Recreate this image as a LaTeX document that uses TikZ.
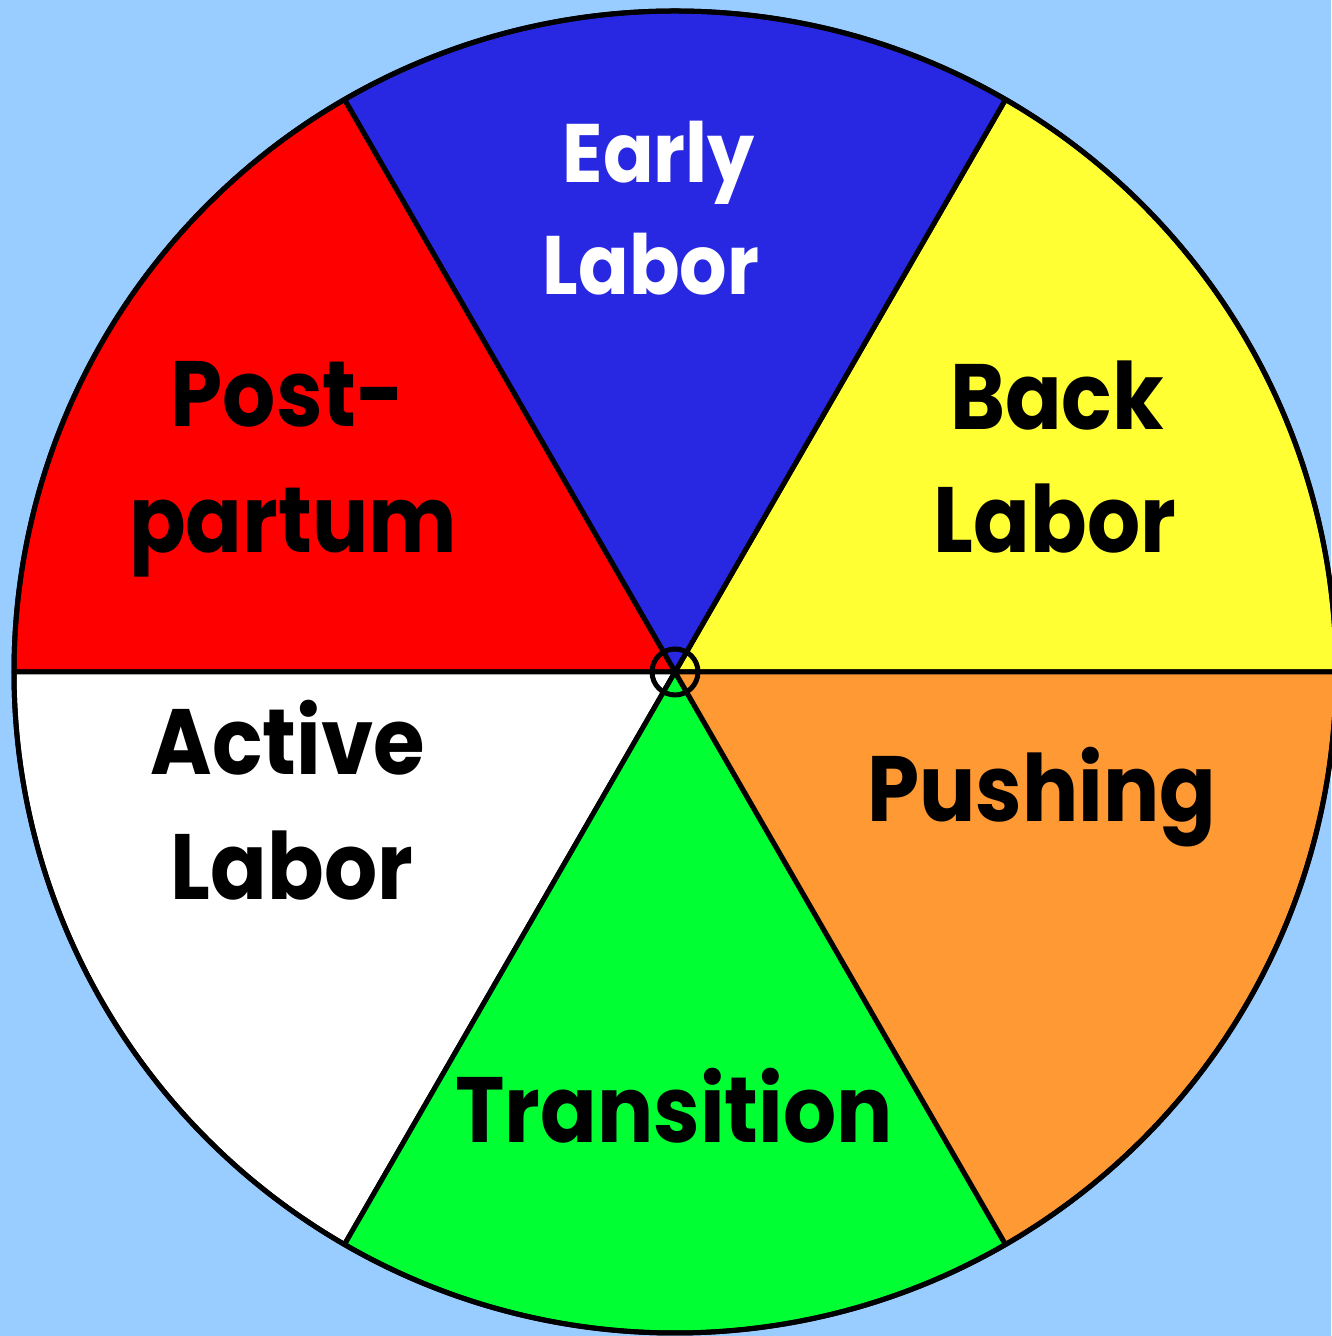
\documentclass[tikz,border=0pt]{standalone}
\usepackage{fontspec}
\setmainfont{Poppins}[FakeStretch=0.9]
\definecolor{bgblue}{RGB}{153,204,255}
\definecolor{secblue}{RGB}{40,40,226}
\definecolor{secyellow}{RGB}{255,255,51}
\definecolor{secorange}{RGB}{255,153,51}
\definecolor{secgreen}{RGB}{0,255,51}
\definecolor{secred}{RGB}{255,0,0}
\begin{document}
\begin{tikzpicture}[x=0.1mm,y=0.1mm,
  sector/.style={draw=black,line width=0.5mm,line join=round},
  lbl/.style={anchor=base,inner sep=0pt,font=\bfseries\fontsize{26.4}{30}\selectfont},
  lblsmall/.style={anchor=base,inner sep=0pt,font=\bfseries\fontsize{23.6}{28}\selectfont}]
\fill[bgblue] (0,0) rectangle (1331,1336);
\useasboundingbox (0,0) rectangle (1331,1336);
\coordinate (c) at (675,664);
% sectors
\filldraw[sector,fill=secyellow] (c) -- ++(0:661) arc[start angle=0,end angle=60,radius=661] -- cycle;
\filldraw[sector,fill=secblue] (c) -- ++(60:661) arc[start angle=60,end angle=120,radius=661] -- cycle;
\filldraw[sector,fill=secred] (c) -- ++(120:661) arc[start angle=120,end angle=180,radius=661] -- cycle;
\filldraw[sector,fill=white] (c) -- ++(180:661) arc[start angle=180,end angle=240,radius=661] -- cycle;
\filldraw[sector,fill=secgreen] (c) -- ++(240:661) arc[start angle=240,end angle=300,radius=661] -- cycle;
\filldraw[sector,fill=secorange] (c) -- ++(300:661) arc[start angle=300,end angle=360,radius=661] -- cycle;
\draw[line width=0.5mm] (c) circle[radius=661];
\draw[line width=0.5mm] (c) circle[radius=23];
% labels
\node[lblsmall,text=white] (early1) at (659,1153) {Early};
\node[lblsmall,text=white] (early2) at (651,1041) {Labor};
\node[lbl] (back1) at (1057,906) {Back};
\node[lbl] (back2) at (1055,783) {Labor};
\node[lbl] (post1) at (288,909) {Post-};
\node[lbl] (post2) at (293,783) {partum};
\node[lbl] (active1) at (288,561) {Active};
\node[lbl] (active2) at (292,436) {Labor};
\node[lbl] (push) at (1042,514) {Pushing};
\node[lbl] (trans) at (674,193) {Transition};
\end{tikzpicture}
\end{document}
